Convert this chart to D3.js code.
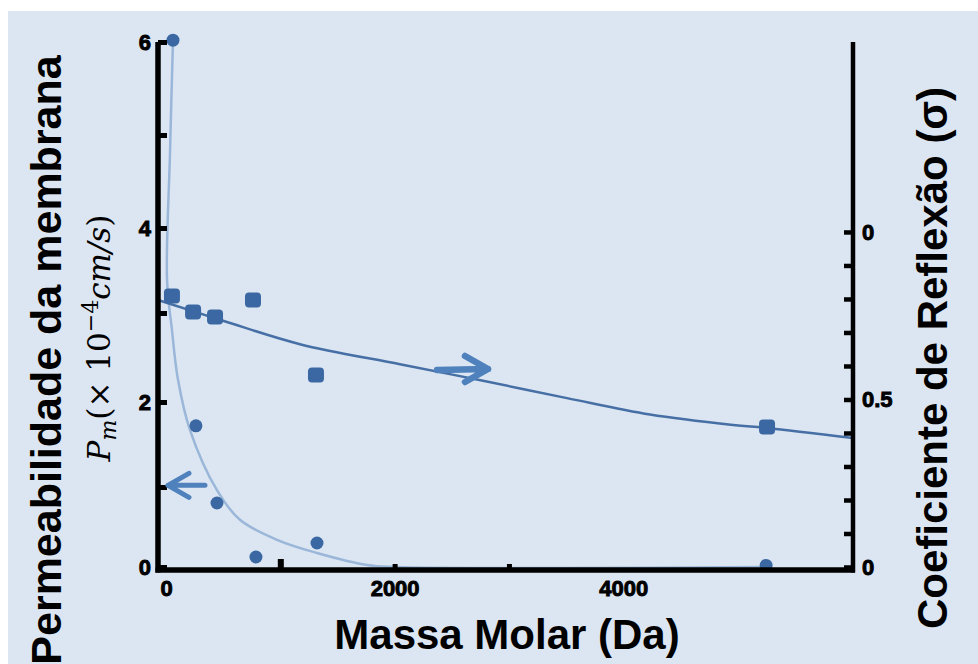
<!DOCTYPE html>
<html>
<head>
<meta charset="utf-8">
<script src="https://cdn.jsdelivr.net/npm/d3@7"></script>
<style>
  body { margin: 0; background: #fff; }
  text { font-family: "Liberation Sans", Arial, sans-serif; }
</style>
</head>
<body>
<div id="chart"></div>
<script>
// data
// circles: membrane permeability (left axis)
var massPm = [61, 262, 446, 787, 1321, 5250];
var permeability = [6.02, 1.72, 0.80, 0.125, 0.30, 0.02];
// squares: reflection coefficient (right axis)
var massSigma = [52, 237, 429, 761, 1312, 5258];
var reflection = [0.809, 0.761, 0.746, 0.797, 0.573, 0.418];
// fitted curves
var pmFitMass = [61, 35, 9, 52, 105, 210, 446, 647, 971, 1321, 1759, 2000, 5260];
var pmFitValue = [6.02, 4.81, 3.39, 2.81, 2.25, 1.67, 0.96, 0.59, 0.34, 0.175, 0.025, 0, 0];
var sigmaFitMass = [-70, 499, 1172, 2047, 2773, 3508, 4234, 4961, 5258, 6010];
var sigmaFitValue = [0.797, 0.735, 0.665, 0.605, 0.556, 0.504, 0.455, 0.424, 0.415, 0.385];
// ticks
var pmTicks = [0, 1, 2, 3, 4, 5, 6];
var pmTickLabels = ["0", "", "2", "", "4", "", "6"];
var sigmaTicks = [0, 0.1, 0.2, 0.3, 0.4, 0.5, 0.6, 0.7, 0.8, 0.9, 1];
var sigmaTickLabels = ["0", "", "", "", "", "0.5", "", "", "", "", "0"];
var massTicks = [0, 1000, 2000, 3000, 4000];
var massTickLabels = ["0", "", "2000", "", "4000"];
var massTickLen = [0, 11, 6, 6, 0];
// arrows [mass, value] tail -> tip
var arrowPm = [[341, 1.02], [17, 1.02]];
var arrowSigma = [[2371, 0.588], [2817, 0.591]];

var width = 978, height = 664;

var svg = d3.select("#chart").append("svg")
  .attr("width", width)
  .attr("height", height);

svg.append("rect")
  .attr("x", 8).attr("y", 11)
  .attr("width", width - 8).attr("height", height - 11)
  .attr("fill", "#dce6f2");

var x = d3.scaleLinear().domain([-70, 6010]).range([158, 853]);
// the picture's left axis is not quite evenly spaced
var y = d3.scaleLinear().domain(pmTicks).range([567, 487, 402, 313, 228, 135, 42]);
var y2 = d3.scaleLinear().domain([0, 1.567]).range([567, 42]);

var dark = "#3b68a2";

// fitted curves
var pmLine = d3.line()
  .x(function(d) { return x(d[0]); })
  .y(function(d) { return y(d[1]); })
  .curve(d3.curveCatmullRom.alpha(0.5));
svg.append("path")
  .attr("d", pmLine(d3.zip(pmFitMass, pmFitValue)))
  .attr("fill", "none")
  .attr("stroke", "#9ab6d8")
  .attr("stroke-width", 2.5);

var sigmaLine = d3.line()
  .x(function(d) { return x(d[0]); })
  .y(function(d) { return y2(d[1]); })
  .curve(d3.curveCatmullRom.alpha(0.5));
svg.append("path")
  .attr("d", sigmaLine(d3.zip(sigmaFitMass, sigmaFitValue)))
  .attr("fill", "none")
  .attr("stroke", "#466fa5")
  .attr("stroke-width", 2.5);

// points
svg.selectAll(".pm").data(d3.zip(massPm, permeability)).enter()
  .append("circle")
  .attr("class", "pm")
  .attr("cx", function(d) { return x(d[0]); })
  .attr("cy", function(d) { return y(d[1]); })
  .attr("r", 6.5)
  .attr("fill", dark);

svg.selectAll(".sigma").data(d3.zip(massSigma, reflection)).enter()
  .append("rect")
  .attr("class", "sigma")
  .attr("x", function(d) { return x(d[0]) - 8; })
  .attr("y", function(d) { return y2(d[1]) - 7.5; })
  .attr("width", 16).attr("height", 15)
  .attr("rx", 4)
  .attr("fill", dark);

// axes
function styleAxis(g) {
  g.select(".domain").remove();
  g.selectAll(".tick line").attr("stroke", "#000").attr("stroke-width", 5);
  g.selectAll(".tick text")
    .attr("fill", "#000")
    .attr("stroke", "#000")
    .attr("stroke-width", 0.9)
    .attr("font-size", 22)
    .attr("font-weight", "bold")
    .style("font-family", "'Liberation Sans', Arial, sans-serif");
}

var gLeft = svg.append("g")
  .attr("transform", "translate(158,0)")
  .call(d3.axisLeft(y).tickValues(pmTicks).tickSize(-9).tickPadding(7)
    .tickFormat(function(d, i) { return pmTickLabels[i]; }))
  .call(styleAxis);

var gRight = svg.append("g")
  .attr("transform", "translate(853,0)")
  .call(d3.axisRight(y2).tickValues(sigmaTicks).tickSize(-9).tickPadding(9)
    .tickFormat(function(d, i) { return sigmaTickLabels[i]; }))
  .call(styleAxis);
gRight.selectAll(".tick line").attr("stroke-width", 4.5);

var gBottom = svg.append("g")
  .attr("transform", "translate(0,570)")
  .call(d3.axisBottom(x).tickValues(massTicks).tickSize(0).tickPadding(10)
    .tickFormat(function(d, i) { return massTickLabels[i]; }))
  .call(styleAxis);
gBottom.selectAll(".tick line")
  .attr("y2", function(d, i) { return -massTickLen[i]; })
  .attr("stroke-width", function(d, i) { return i === 1 ? 6 : 5; });

// axis lines
svg.append("line").attr("x1", 158).attr("x2", 158).attr("y1", 42).attr("y2", 572.5)
  .attr("stroke", "#000").attr("stroke-width", 5.5);
svg.append("line").attr("x1", 853).attr("x2", 853).attr("y1", 42).attr("y2", 572.5)
  .attr("stroke", "#000").attr("stroke-width", 4.5);
svg.append("line").attr("x1", 155.5).attr("x2", 855).attr("y1", 570).attr("y2", 570)
  .attr("stroke", "#000").attr("stroke-width", 5.5);

// arrows
function drawArrow(pts, yScale, w, back, half) {
  var x0 = x(pts[0][0]), y0 = yScale(pts[0][1]);
  var x1 = x(pts[1][0]), y1 = yScale(pts[1][1]);
  var dir = x1 > x0 ? -1 : 1;
  var d = "M" + x0 + "," + y0 + "L" + x1 + "," + y1 +
    "M" + (x1 + dir * back) + "," + (y1 - half) + "L" + x1 + "," + y1 +
    "L" + (x1 + dir * back) + "," + (y1 + half);
  svg.append("path")
    .attr("d", d)
    .attr("fill", "none")
    .attr("stroke", "#4f81bd")
    .attr("stroke-width", w)
    .attr("stroke-linecap", "round")
    .attr("stroke-linejoin", "round");
}
drawArrow(arrowPm, y, 5, 21, 12);
drawArrow(arrowSigma, y2, 6.5, 23, 13);

// titles
svg.append("text")
  .attr("transform", "translate(61,360) rotate(-90)")
  .attr("text-anchor", "middle")
  .attr("font-size", 43)
  .attr("font-weight", "bold")
  .text("Permeabilidade da membrana");

var pmLabel = svg.append("text")
  .attr("transform", "translate(110,338) rotate(-90)")
  .attr("text-anchor", "middle")
  .attr("font-size", 31)
  .style("font-family", "'DejaVu Serif', serif");
pmLabel.append("tspan").attr("font-style", "italic").text("P");
pmLabel.append("tspan").attr("font-style", "italic").attr("font-size", 22).attr("dy", 6).text("m");
pmLabel.append("tspan").attr("dy", -6).text("(× 10");
pmLabel.append("tspan").attr("font-size", 22).attr("dy", -12).text("−4");
pmLabel.append("tspan").attr("font-style", "italic").attr("dy", 12).text("cm/s");
pmLabel.append("tspan").text(")");

svg.append("text")
  .attr("transform", "translate(947,358) rotate(-90)")
  .attr("text-anchor", "middle")
  .attr("font-size", 42)
  .attr("font-weight", "bold")
  .text("Coeficiente de Reflexão (σ)");

svg.append("text")
  .attr("x", 507).attr("y", 649)
  .attr("text-anchor", "middle")
  .attr("font-size", 42)
  .attr("font-weight", "bold")
  .text("Massa Molar (Da)");
</script>
</body>
</html>
